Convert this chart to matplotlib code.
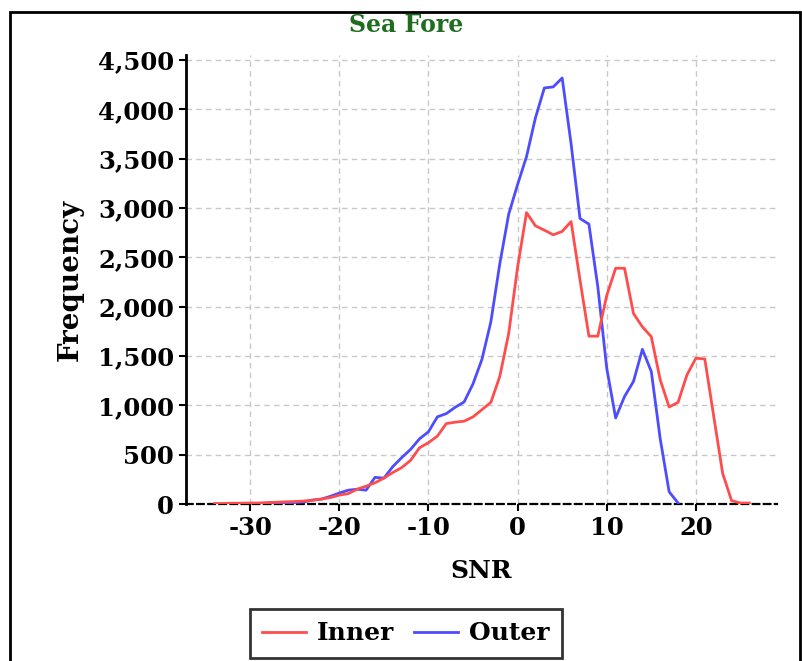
import matplotlib
matplotlib.use('Agg')
import matplotlib.pyplot as plt
from matplotlib.ticker import FuncFormatter, MultipleLocator
from matplotlib.patches import Rectangle

snr_inner = list(range(-34, 27))
inner = [5, 5, 8, 8, 10, 10, 15, 18, 22, 25, 30, 38, 50, 65, 90, 105, 150, 180, 215, 262,
         319, 369, 443, 570, 621, 688, 815, 829, 839, 883, 956, 1030, 1292, 1728, 2400,
         2953, 2819, 2775, 2728, 2762, 2862, 2270, 1701, 1701, 2114, 2389, 2389, 1930,
         1795, 1695, 1258, 983, 1030, 1309, 1477, 1470, 890, 312, 34, 10, 10]

snr_outer = list(range(-31, 19))
outer = [3, 5, 5, 8, 10, 12, 15, 20, 40, 50, 78, 111, 140, 150, 140, 270, 262, 379, 470,
         554, 661, 732, 883, 916, 980, 1034, 1218, 1466, 1846, 2433, 2936, 3238, 3520,
         3913, 4216, 4227, 4317, 3650, 2893, 2836, 2200, 1376, 872, 1090, 1242, 1567,
         1342, 660, 124, 10]

plt.rcParams['font.family'] = 'DejaVu Serif'
plt.rcParams['font.weight'] = 'bold'
plt.rcParams['axes.unicode_minus'] = False

fig = plt.figure(figsize=(8.03, 6.61), dpi=100)
ax = fig.add_axes([186/803, 1-504/661, (777-186)/803, (504-55)/661])

l_out, = ax.plot(snr_outer, outer, color='#4d4dff', lw=2, label='Outer', zorder=3)
l_in, = ax.plot(snr_inner, inner, color='#ff4d4d', lw=2, label='Inner', zorder=4)

ax.set_xlim(-37.2, 29.1)
ax.set_ylim(0, 4550)
ax.xaxis.set_major_locator(MultipleLocator(10))
ax.yaxis.set_major_locator(MultipleLocator(500))
ax.yaxis.set_major_formatter(FuncFormatter(lambda v, p: f'{int(v):,}'))
ax.grid(True, color='#c8c8c8', linestyle=(0, (4, 3)), linewidth=1)
ax.set_axisbelow(True)

for s in ['top', 'right']:
    ax.spines[s].set_visible(False)
ax.spines['left'].set_linewidth(2)
ax.spines['bottom'].set_linewidth(1.6)
ax.spines['bottom'].set_linestyle((0, (3, 2)))
ax.tick_params(axis='both', labelsize=17.5, width=1.5, length=5)

ax.set_xlabel('SNR', fontsize=18, fontweight='bold', labelpad=14)
ax.set_ylabel('Frequency', fontsize=20, fontweight='bold', labelpad=10)

fig.text(406/803, 1-25/661, 'Sea Fore', color='#1f6e1f', fontsize=17,
         fontweight='bold', ha='center', va='center')

leg = fig.legend(handles=[l_in, l_out], loc='upper center', ncol=2,
                 bbox_to_anchor=(406/803, 1-609/661), fontsize=18, frameon=True,
                 fancybox=False, edgecolor='black', handlelength=1.75, columnspacing=0.8,
                 handletextpad=0.45, borderpad=0.5, borderaxespad=0)
leg.get_frame().set_linewidth(2)

fig.patches.append(Rectangle((10/803, -0.05), 790/803, 1.05 - 12/661,
                             transform=fig.transFigure, fill=False,
                             edgecolor='black', linewidth=2))

fig.savefig('out.png', dpi=100)
